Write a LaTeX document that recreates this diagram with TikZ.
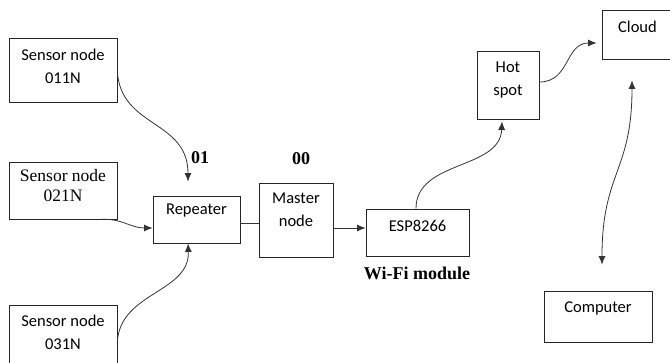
\documentclass[tikz,border=0pt]{standalone}
\usepackage{fontspec}
\setmainfont{Carlito}
\newfontfamily\tms{Liberation Serif}
\usetikzlibrary{arrows.meta}

\begin{document}
\begin{tikzpicture}[x=1pt,y=-1pt]
	\tikzset{box/.style = {draw=black!85, line width=0.9pt, inner sep=0pt}}
	\tikzset{txt/.style = {align=center, inner sep=0pt, anchor=north, font=\fontsize{16.5}{23}\selectfont}}
	\tikzset{tag/.style = {inner sep=0pt, font=\tms\bfseries\fontsize{18}{20}\selectfont}}
	\tikzset{edge/.style = {-{Latex[length=8.5pt,width=7pt]}, draw=black!80, line width=0.8pt}}
	\clip (0,0) rectangle (670,363);
	% Draw boxes
	\node[box, minimum width=108pt, minimum height=64pt, label={[txt, yshift=-11.5pt]north:Sensor node\\011N}] (s1) at (63,70) {};
	\node[box, minimum width=108pt, minimum height=57pt, label={[txt, yshift=-8pt, font=\tms\fontsize{17.5}{20}\selectfont]north:Sensor node\\021N}] (s2) at (63,190.5) {};
	\node[box, minimum width=108pt, minimum height=64pt, label={[txt, yshift=-10pt]north:Sensor node\\031N}] (s3) at (63,337) {};
	\node[box, minimum width=87pt, minimum height=47pt, label={[txt, yshift=-8.5pt]north:Repeater}] (rep) at (196.5,219.5) {};
	\node[box, minimum width=74pt, minimum height=74pt, label={[txt, yshift=-10.5pt]north:Master\\node}] (master) at (296,220) {};
	\node[box, minimum width=103pt, minimum height=47pt, label={[txt, yshift=-11pt]north:ESP8266}] (esp) at (417.5,232.5) {};
	\node[box, minimum width=62pt, minimum height=68pt, label={[txt, yshift=-11.5pt]north:Hot\\spot}] (hot) at (508,85) {};
	\node[box, minimum width=71pt, minimum height=49pt, label={[txt, yshift=-11pt]north:Cloud}] (cloud) at (637.5,34.5) {};
	\node[box, minimum width=108pt, minimum height=51pt, label={[txt, yshift=-11pt]north:Computer}] (comp) at (598,316.5) {};
	% Tags
	\node[tag] (t01) at (200,158) {01};
	\node[tag] (t00) at (301,159) {00};
	\node[tag] (wifi) at (417,273) {Wi-Fi module};
	% Links
	\draw[edge] ([yshift=-3pt]s1.east) .. controls (122,128) and (188,120) .. ([xshift=-8.5pt,yshift=14pt]rep.north);
	\draw[edge] ([xshift=-17pt]s2.south east) .. controls (122,218) and (130,228) .. ([yshift=-8.5pt]rep.west);
	\draw[edge] ([yshift=-3pt]s3.east) .. controls (122,292) and (190,292) .. ([xshift=-8.5pt]rep.south);
	\draw[draw=black!80, line width=0.8pt] ([yshift=-3.5pt]rep.east) -- ([yshift=-3pt]master.west);
	\draw[edge] ([yshift=-8pt]master.east) -- ([yshift=4.5pt]esp.west);
	\draw[edge] ([xshift=-1.5pt]esp.north) .. controls (416,160) and (500,170) .. ([xshift=-6pt,yshift=-2pt]hot.south);
	\draw[edge] ([yshift=3pt]hot.east) .. controls (570,82) and (565,43) .. ([xshift=-5pt,yshift=-8.5pt]cloud.west);
	\draw[edge, {Latex[length=8.5pt,width=7pt]}-{Latex[length=8.5pt,width=7pt]}] ([xshift=-5.5pt,yshift=-21pt]cloud.south) .. controls (632,172) and (602,172) .. ([xshift=4pt,yshift=26pt]comp.north);
\end{tikzpicture}
\end{document}
